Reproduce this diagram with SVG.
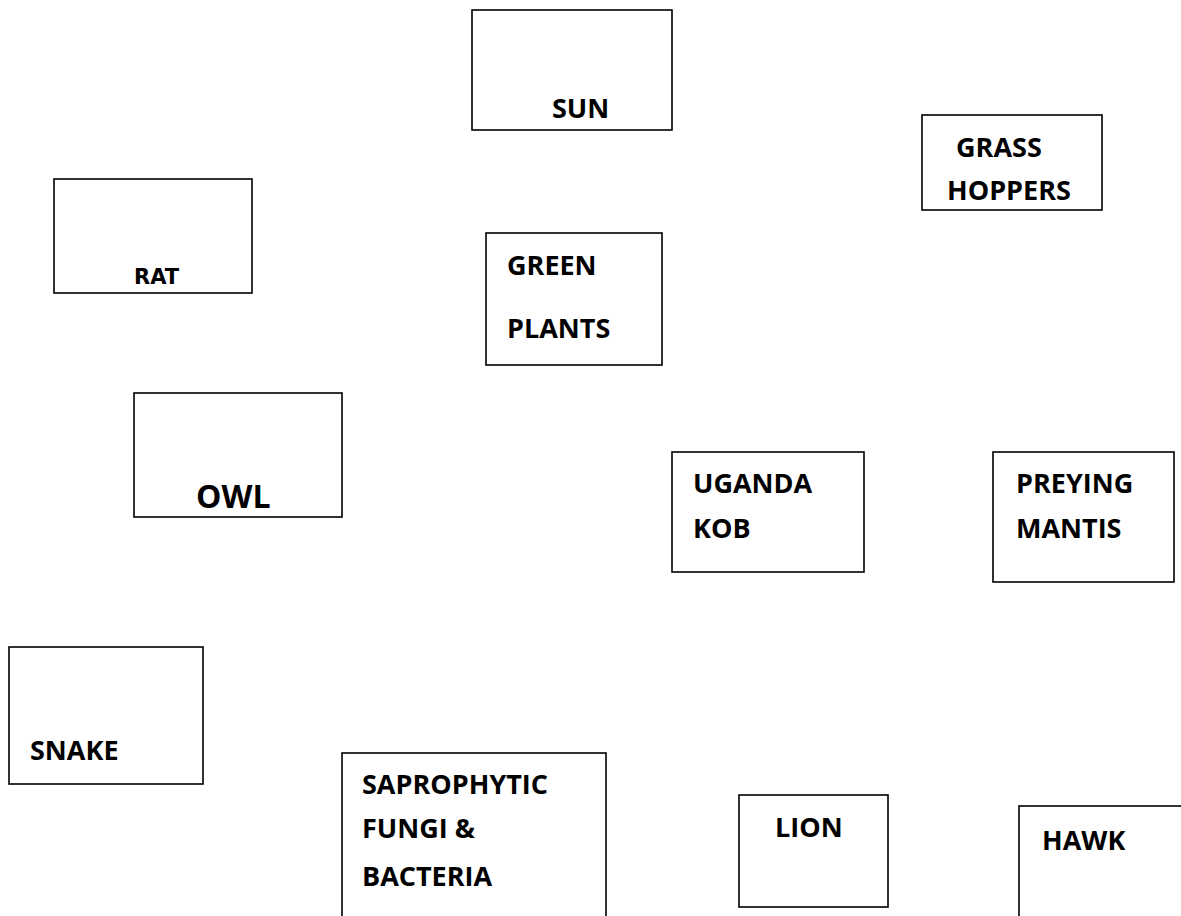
<svg xmlns="http://www.w3.org/2000/svg" width="1181" height="916" viewBox="0 0 1181 916">
<style>
rect{fill:#fff;stroke:#000;stroke-width:1.6}
text{font-family:"Open Sans","Liberation Sans",sans-serif;font-weight:bold;font-size:27px;fill:#000}
.owl{font-size:32px}
.rat{font-family:"DejaVu Sans","Liberation Sans",sans-serif;font-size:21px}
</style>
<rect x="0" y="0" width="1181" height="916" style="stroke:none"/>
<g id="sun"><rect x="472" y="10" width="200" height="120"/><text x="552" y="118">SUN</text></g>
<g id="grasshoppers"><rect x="922" y="115" width="180" height="95"/><text x="956" y="157">GRASS</text><text x="947" y="200">HOPPERS</text></g>
<g id="rat"><rect x="54" y="179" width="198" height="114"/><text class="rat" x="134" y="284">RAT</text></g>
<g id="greenplants"><rect x="486" y="233" width="176" height="132"/><text x="507" y="275">GREEN</text><text x="507" y="338">PLANTS</text></g>
<g id="owl"><rect x="134" y="393" width="208" height="124"/><text class="owl" x="196" y="508">OWL</text></g>
<g id="ugandakob"><rect x="672" y="452" width="192" height="120"/><text x="693" y="493">UGANDA</text><text x="693" y="538">KOB</text></g>
<g id="preyingmantis"><rect x="993" y="452" width="181" height="130"/><text x="1016" y="493">PREYING</text><text x="1016" y="538">MANTIS</text></g>
<g id="snake"><rect x="9" y="647" width="194" height="137"/><text x="30" y="760">SNAKE</text></g>
<g id="saprophytic"><rect x="342" y="753" width="264" height="200"/><text x="362" y="794">SAPROPHYTIC</text><text x="362" y="838">FUNGI &amp;</text><text x="362" y="886">BACTERIA</text></g>
<g id="lion"><rect x="739" y="795" width="149" height="112"/><text x="775" y="837">LION</text></g>
<g id="hawk"><rect x="1019" y="806" width="200" height="200"/><text x="1042" y="850">HAWK</text></g>
<g id="connectors"></g>
</svg>
